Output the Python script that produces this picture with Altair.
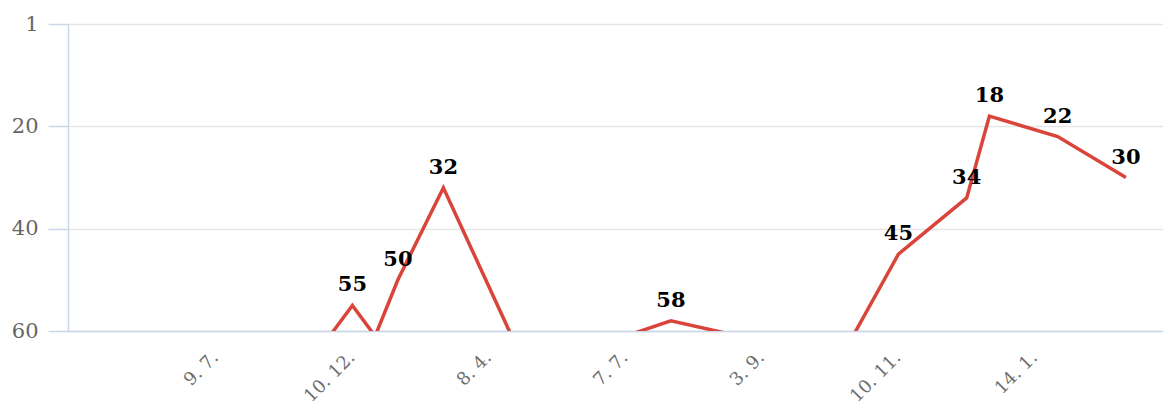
import json
import altair as alt
import pandas as pd

# slot index along the x axis and the chart rank at that slot (61 = below the visible range)
slot = [11, 12, 13, 14, 16, 19, 24, 26, 29, 34, 36, 39, 40, 43, 46]
rank = [61, 55, 61, 50, 32, 61, 61, 58, 61, 61, 45, 34, 18, 22, 30]

tick_slots = [6, 12, 18, 24, 30, 36, 42]
tick_labels = ["9. 7.", "10. 12.", "8. 4.", "7. 7.", "3. 9.", "10. 11.", "14. 1."]

y_ticks = [0, 20, 40, 60]

df = pd.DataFrame({"slot": slot, "rank": rank})

label_expr = json.dumps(tick_labels) + "[round(datum.value / 6) - 1]"

x_enc = alt.X(
    "slot:Q",
    scale=alt.Scale(domain=[-0.5, 47.63], nice=False, zero=False),
    axis=alt.Axis(
        values=tick_slots,
        labelExpr=label_expr,
        title=None,
        grid=False,
        ticks=False,
        labelAngle=-45,
        labelAlign="right",
        labelBaseline="alphabetic",
        labelPadding=27,
        labelOffset=3,
        labelFont="DejaVu Serif",
        labelFontSize=18,
        labelColor="#6e6e6e",
        domainColor="#ccd6eb",
        domainWidth=1.5,
    ),
)

y_enc = alt.Y(
    "rank:Q",
    scale=alt.Scale(domain=[0, 60], reverse=True, nice=False, zero=False),
    axis=alt.Axis(
        values=y_ticks,
        labelExpr="datum.value == 0 ? '1' : datum.label",
        title=None,
        grid=True,
        gridColor="#e6e6e6",
        gridWidth=1.5,
        ticks=True,
        tickSize=20,
        tickColor="#ccd6eb",
        tickWidth=1.5,
        labelPadding=10,
        labelFont="DejaVu Serif",
        labelFontSize=21,
        labelColor="#666666",
        domainColor="#ccd6eb",
        domainWidth=1.5,
    ),
)

line = alt.Chart(df).mark_line(color="#d9453a", strokeWidth=3.5, clip=True).encode(x=x_enc, y=y_enc)

labels = (
    alt.Chart(df)
    .transform_filter("datum.rank <= 60")
    .mark_text(
        font="DejaVu Serif",
        fontWeight="bold",
        fontSize=21,
        color="#000000",
        baseline="alphabetic",
        align="center",
        dy=-14,
    )
    .encode(x="slot:Q", y="rank:Q", text="rank:Q")
)

chart = (
    alt.layer(line, labels)
    .properties(
        width=1095,
        height=307,
        autosize=alt.AutoSizeParams(type="none"),
        padding={"left": 60, "top": 16, "right": 0, "bottom": 75},
    )
    .configure_view(strokeWidth=0)
)

chart.save("out.html", embed_options={"renderer": "svg", "actions": False})
